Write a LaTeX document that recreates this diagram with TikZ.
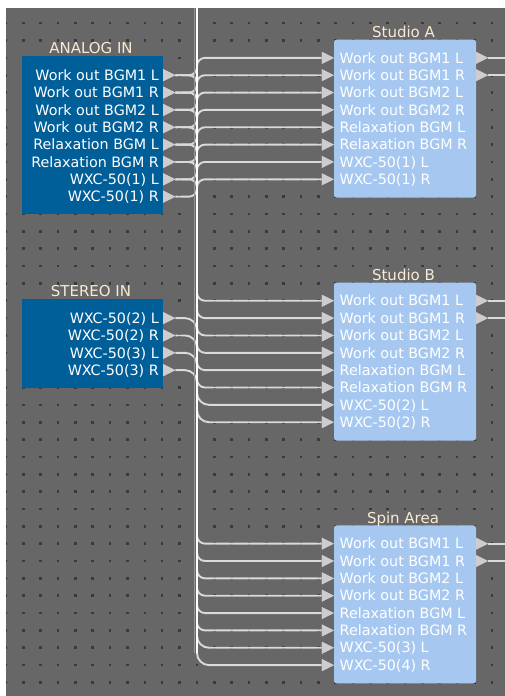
\documentclass[tikz,border=0pt]{standalone}
\usepackage{fontspec}
\setmainfont{DejaVu Sans}
\usetikzlibrary{calc}
\definecolor{canvasc}{RGB}{103,103,103}
\definecolor{gdot}{RGB}{58,58,58}
\definecolor{dblue}{RGB}{0,94,153}
\definecolor{lblue}{RGB}{166,200,240}
\definecolor{portc}{RGB}{205,205,205}
\definecolor{wirec}{RGB}{218,218,218}
\definecolor{titlec}{RGB}{248,234,212}
\definecolor{fringec}{RGB}{150,150,150}
\newcommand\pfont{\fontsize{14.3pt}{16pt}\selectfont}
\newcommand\tfont{\fontsize{15pt}{17pt}\selectfont}
\begin{document}
\begin{tikzpicture}[x=1pt,y=-1pt,
  port/.style={rectangle, minimum width=12pt, minimum height=12pt, inner sep=0pt, draw=none,
    path picture={\fill[portc] (path picture bounding box.north west) -- (path picture bounding box.east) -- (path picture bounding box.south west) -- cycle;}},
  wire/.style={draw=wirec, line width=1.9pt},
  busline/.style={draw=white, line width=2.3pt},
  fringe/.style={draw=fringec, line width=0.9pt},
  ablock/.style={rectangle, fill=dblue, draw=none, inner sep=0pt, minimum width=141pt},
  sblock/.style={rectangle, fill=lblue, draw=none, rounded corners=2.5pt, inner sep=0pt, minimum width=142pt, minimum height=158pt},
  plabel/.style={inner sep=0pt, text=white, font=\pfont},
  tlabel/.style={inner sep=0pt, text=titlec, font=\tfont}]
\useasboundingbox (0,0) rectangle (505,696);
\fill[white] (0,0) rectangle (505,696);
% canvas and dot grid
\begin{scope}
  \clip (6,8) rectangle (505,696);
  \fill[canvasc] (6,8) rectangle (505,696);
  \foreach \i in {0,...,29} \foreach \j in {0,...,40}
    \fill[gdot] ({6+17.35*\i-1.3},{5.8+17.35*\j-1.3}) rectangle ++(2.6,2.6);
\end{scope}
\coordinate (bustop) at (197,8);
\coordinate (redge) at (505,0);
% blocks
\node[ablock, minimum height=158pt] (analog) at (92.5,135) {};
\node[ablock, minimum height=89pt] (stereo) at (92.5,343.5) {};
\node[sblock] (studioA) at (405,118.6) {};
\node[sblock] (studioB) at (405,361.5) {};
\node[sblock] (spin) at (405,604.4) {};
% titles
\node[tlabel, anchor=base] (tAn) at (91,53.6) {ANALOG IN};
\node[tlabel, anchor=base] (tSt) at (91,296.6) {STEREO IN};
\node[tlabel, anchor=base] (tA) at (403.5,37.2) {Studio A};
\node[tlabel, anchor=base] (tB) at (403.5,280.1) {Studio B};
\node[tlabel, anchor=base] (tC) at (403,523) {Spin Area};
% ANALOG IN ports
\foreach \i/\t in {1/Work out BGM1 L,2/Work out BGM1 R,3/Work out BGM2 L,4/Work out BGM2 R,5/Relaxation BGM L,6/Relaxation BGM R,7/WXC-50(1) L,8/WXC-50(1) R}{
  \pgfmathsetmacro{\ya}{5.8+17.35*(\i+3)}
  \node[port, anchor=west] (a\i) at (163,\ya) {};
  \node[plabel, anchor=base east] (al\i) at (159,\ya+5.2) {\t};
}
% STEREO IN ports
\foreach \i/\t in {1/WXC-50(2) L,2/WXC-50(2) R,3/WXC-50(3) L,4/WXC-50(3) R}{
  \pgfmathsetmacro{\ya}{5.8+17.35*(\i+17)}
  \node[port, anchor=west] (s\i) at (163,\ya) {};
  \node[plabel, anchor=base east] (sl\i) at (159,\ya+5.2) {\t};
}
% Studio A inputs
\foreach \i/\t in {1/Work out BGM1 L,2/Work out BGM1 R,3/Work out BGM2 L,4/Work out BGM2 R,5/Relaxation BGM L,6/Relaxation BGM R,7/WXC-50(1) L,8/WXC-50(1) R}{
  \pgfmathsetmacro{\yb}{5.8+17.35*(\i+2)}
  \node[port, anchor=east] (sa\i) at (334,\yb) {};
  \node[plabel, anchor=base west] (sal\i) at (339.5,\yb+5.2) {\t};
}
% Studio B inputs
\foreach \i/\t in {1/Work out BGM1 L,2/Work out BGM1 R,3/Work out BGM2 L,4/Work out BGM2 R,5/Relaxation BGM L,6/Relaxation BGM R,7/WXC-50(2) L,8/WXC-50(2) R}{
  \pgfmathsetmacro{\yb}{5.8+17.35*(\i+16)}
  \node[port, anchor=east] (sb\i) at (334,\yb) {};
  \node[plabel, anchor=base west] (sbl\i) at (339.5,\yb+5.2) {\t};
}
% Spin Area inputs
\foreach \i/\t in {1/Work out BGM1 L,2/Work out BGM1 R,3/Work out BGM2 L,4/Work out BGM2 R,5/Relaxation BGM L,6/Relaxation BGM R,7/WXC-50(3) L,8/WXC-50(4) R}{
  \pgfmathsetmacro{\yb}{5.8+17.35*(\i+30)}
  \node[port, anchor=east] (sc\i) at (334,\yb) {};
  \node[plabel, anchor=base west] (scl\i) at (339.5,\yb+5.2) {\t};
}
% wires
\foreach \i in {1,...,8}
  \draw[wire, rounded corners=8pt] (a\i.east) -- (a\i.east -| bustop) -- (sa\i.west -| bustop) -- (sa\i.west);
\foreach \i in {1,...,6}{
  \draw[wire, rounded corners=8pt] (a\i.east) -- (a\i.east -| bustop) -- (sb\i.west -| bustop) [rounded corners=12pt] -- (sb\i.west);
  \draw[wire, rounded corners=8pt] (a\i.east) -- (a\i.east -| bustop) -- (sc\i.west -| bustop) [rounded corners=12pt] -- (sc\i.west);
}
\draw[wire, rounded corners=8pt] (a7.east) -- (a7.east -| bustop) -- ($(a7.east -| bustop)+(0,12)$);
\draw[wire, rounded corners=12pt] (s1.east) -- (s1.east -| bustop) -- (sb7.west -| bustop) -- (sb7.west);
\draw[wire, rounded corners=12pt] (s2.east) -- (s2.east -| bustop) -- (sb8.west -| bustop) -- (sb8.west);
\draw[wire, rounded corners=12pt] (s3.east) -- (s3.east -| bustop) -- (sc7.west -| bustop) -- (sc7.west);
\draw[wire, rounded corners=12pt] (s4.east) -- (s4.east -| bustop) -- (sc8.west -| bustop) -- (sc8.west);
% outputs
\foreach \b/\k in {sa/3,sb/17,sc/31}{
  \pgfmathsetmacro{\yo}{5.8+17.35*\k}
  \pgfmathsetmacro{\yp}{5.8+17.35*(\k+1)}
  \node[port, anchor=west] (\b o1) at (476,\yo) {};
  \node[port, anchor=west] (\b o2) at (476,\yp) {};
  \draw[wire] (\b o1.east) -- (\b o1.east -| redge);
  \draw[wire] (\b o2.east) -- (\b o2.east -| redge);
}
% bus
\draw[fringe] ($(bustop)+(-2.4,0)$) -- ($(sc8.west -| bustop)+(-2.4,-12)$);
\draw[busline] (bustop) -- ($(sc8.west -| bustop)+(0,-12)$);
% redraw ports over wires
\foreach \i in {1,...,8}{
  \node[port, anchor=west] at (a\i.west) {};
  \node[port, anchor=east] at (sa\i.east) {};
  \node[port, anchor=east] at (sb\i.east) {};
  \node[port, anchor=east] at (sc\i.east) {};
}
\foreach \i in {1,...,4}
  \node[port, anchor=west] at (s\i.west) {};
\end{tikzpicture}
\end{document}
